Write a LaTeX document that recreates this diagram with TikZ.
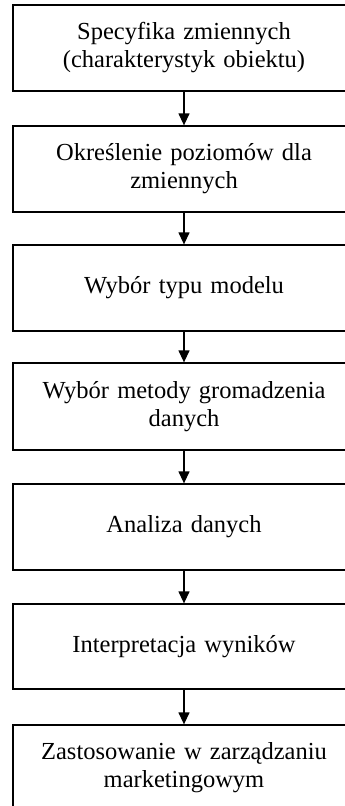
\documentclass[tikz,border=0pt]{standalone}
\usepackage{fontspec}
\setmainfont{Liberation Serif}
\usetikzlibrary{arrows.meta}
\begin{document}
\begin{tikzpicture}[x=1pt,y=-1pt,
  box/.style={draw, line width=1.3pt, minimum width=342pt, minimum height=86pt,
    align=center, text width=320pt, inner sep=0pt,
    font=\fontsize{24.5}{28}\selectfont},
  arr/.style={line width=1.3pt, -{Triangle[length=12pt,width=11pt]}}]
\useasboundingbox (0,0) rectangle (345,806);
\clip (0,0) rectangle (345,806);
\node[box] (b1) at (184,48) {Specyfika zmiennych\\(charakterystyk obiektu)};
\node[box] (b2) at (184,169) {Określenie poziomów dla\\zmiennych};
\node[box] (b3) at (184,288) {Wybór typu modelu};
\node[box, minimum height=87pt] (b4) at (184,406.5) {Wybór metody gromadzenia\\danych};
\node[box] (b5) at (184,527) {Analiza danych};
\node[box, minimum height=85pt] (b6) at (184,646.5) {Interpretacja wyników};
\node[box] (b7) at (184,768) {Zastosowanie w zarządzaniu\\marketingowym\\[6pt]};
\draw[arr] (b1.south) -- (b2.north);
\draw[arr] (b2.south) -- (b3.north);
\draw[arr] (b3.south) -- (b4.north);
\draw[arr] (b4.south) -- (b5.north);
\draw[arr] (b5.south) -- (b6.north);
\draw[arr] (b6.south) -- (b7.north);
\end{tikzpicture}
\end{document}
